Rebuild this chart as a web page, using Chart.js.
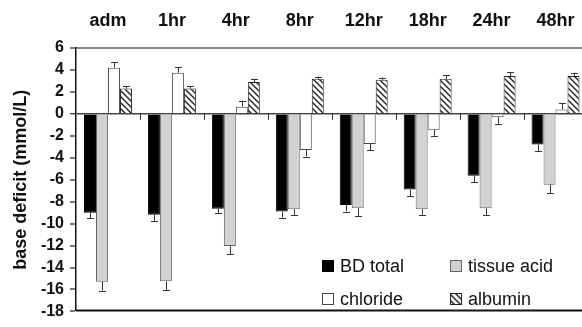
<!DOCTYPE html>
<html>
<head>
<meta charset="utf-8">
<script src="https://cdn.jsdelivr.net/npm/chart.js@4"></script>
<style>
html,body{margin:0;padding:0;background:#fff;overflow:hidden;}
canvas{display:block;}
</style>
</head>
<body>
<canvas id="plot" width="600" height="327"></canvas>
<script>
// values (mmol/L), error = one-sided SE bar
const categories = ['adm','1hr','4hr','8hr','12hr','18hr','24hr','48hr'];
const bdTotal        = [-9.0, -9.2, -8.65, -8.9, -8.3, -6.9, -5.65, -2.8];
const bdTotalErr     = [0.5, 0.55, 0.4, 0.55, 0.6, 0.6, 0.55, 0.6];
const tissueAcid     = [-15.3, -15.25, -12.05, -8.7, -8.6, -8.7, -8.6, -6.45];
const tissueAcidErr  = [0.8, 0.8, 0.75, 0.5, 0.75, 0.5, 0.6, 0.8];
const chloride       = [4.2, 3.75, 0.65, -3.3, -2.75, -1.45, -0.3, 0.4];
const chlorideErr    = [0.5, 0.5, 0.55, 0.6, 0.55, 0.55, 0.6, 0.6];
const albumin        = [2.3, 2.3, 2.9, 3.2, 3.1, 3.2, 3.45, 3.45];
const albuminErr     = [0.25, 0.25, 0.3, 0.2, 0.2, 0.3, 0.35, 0.3];
const seriesNames    = ['BD total','tissue acid','chloride','albumin'];
const yMin = -18, yMax = 6, yStep = 2;

Chart.defaults.font.family = "'Liberation Sans', Arial, sans-serif";

let ctx = document.getElementById("plot").getContext("2d");

function hatchPattern(){
    const c = document.createElement('canvas');
    c.width = 6; c.height = 6;
    const g = c.getContext('2d');
    g.fillStyle = '#fff';
    g.fillRect(0,0,6,6);
    g.strokeStyle = '#222';
    g.lineWidth = 1.4;
    g.beginPath();
    g.moveTo(0,0); g.lineTo(6,6);
    g.moveTo(-3,3); g.lineTo(3,9);
    g.moveTo(3,-3); g.lineTo(9,3);
    g.stroke();
    return ctx.createPattern(c,'repeat');
}

const errors = [bdTotalErr, tissueAcidErr, chlorideErr, albuminErr];

const errorBars = {
    id: 'errorBars',
    afterDatasetsDraw(chart){
        const c = chart.ctx, y = chart.scales.y;
        c.save();
        c.strokeStyle = '#333';
        c.lineWidth = 1;
        chart.data.datasets.forEach((ds,i)=>{
            chart.getDatasetMeta(i).data.forEach((bar,j)=>{
                const v = ds.data[j];
                const e = errors[i][j];
                const end = y.getPixelForValue(v + (v<0 ? -e : e));
                const x = Math.round(bar.x)+0.5;
                c.beginPath();
                c.moveTo(x, bar.y);
                c.lineTo(x, end);
                c.moveTo(x-3.5, Math.round(end)+0.5);
                c.lineTo(x+3.5, Math.round(end)+0.5);
                c.stroke();
            });
        });
        c.restore();
    }
};

const frame = {
    id: 'frame',
    afterDraw(chart){
        const c = chart.ctx, a = chart.chartArea, x = chart.scales.x, y = chart.scales.y;
        c.save();
        // bottom border
        c.strokeStyle = '#111';
        c.lineWidth = 2;
        c.beginPath();
        c.moveTo(a.left, a.bottom-1);
        c.lineTo(a.right, a.bottom-1);
        c.stroke();
        // category ticks on the zero line
        const z = y.getPixelForValue(0);
        c.strokeStyle = '#333';
        c.lineWidth = 1;
        c.beginPath();
        for(let i=0;i<categories.length-1;i++){
            const m = Math.round((x.getPixelForValue(i)+x.getPixelForValue(i+1))/2)+0.5;
            c.moveTo(m, z);
            c.lineTo(m, z+6);
        }
        c.stroke();
        // legend, 2 x 2, inside plot
        const pos = [[322,266],[450,266],[322,299],[450,299]];
        c.font = "18px 'Liberation Sans', Arial, sans-serif";
        c.textBaseline = 'middle';
        c.fillStyle = '#111';
        chart.data.datasets.forEach((ds,i)=>{
            const [lx,ly] = pos[i];
            c.fillStyle = ds.backgroundColor;
            c.fillRect(lx, ly-6, 12, 12);
            c.strokeStyle = ds.borderColor;
            c.lineWidth = 1;
            c.strokeRect(lx+0.5, ly-5.5, 11, 11);
            c.fillStyle = '#111';
            c.fillText(ds.label, lx+18, ly+1);
        });
        c.restore();
    }
};

const data = {
    labels: categories,
    datasets: [
        {label: seriesNames[0], data: bdTotal, backgroundColor: '#000', borderColor: '#000', borderWidth: 1},
        {label: seriesNames[1], data: tissueAcid, backgroundColor: '#d2d2d2', borderColor: '#666', borderWidth: 1},
        {label: seriesNames[2], data: chloride, backgroundColor: '#fff', borderColor: '#444', borderWidth: 1},
        {label: seriesNames[3], data: albumin, backgroundColor: hatchPattern(), borderColor: '#222', borderWidth: 1}
    ]
};

const config = {
    type: 'bar',
    data: data,
    options: {
        responsive: false,
        animation: false,
        categoryPercentage: 0.75,
        barPercentage: 1,
        layout: {padding: {left: 0, right: 12.5, top: 0, bottom: 5}},
        plugins: {legend: {display: false}, tooltip: {enabled: false}},
        scales: {
            x: {
                position: 'top',
                grid: {display: false},
                border: {display: true, color: '#888', width: 2},
                ticks: {font: {size: 18, weight: 'bold'}, color: '#111', padding: 8},
                afterFit(s){ s.height = 48; }
            },
            y: {
                min: yMin,
                max: yMax,
                ticks: {stepSize: yStep, autoSkip: false, font: {size: 16, weight: 'bold'}, color: '#111', padding: 6},
                grid: {
                    color: c => c.tick && c.tick.value === 0 ? '#444' : 'rgba(0,0,0,0)',
                    lineWidth: c => c.tick && c.tick.value === 0 ? 1.5 : 0,
                    tickColor: '#222',
                    tickWidth: 1.2,
                    tickLength: 6
                },
                border: {color: '#111', width: 1.5},
                title: {display: true, text: 'base deficit (mmol/L)', font: {size: 18, weight: 'bold'}, color: '#111', padding: {top: 10, bottom: 0}},
                afterFit(s){ s.width = 76; }
            }
        }
    },
    plugins: [errorBars, frame]
};

let chart = new Chart(ctx, config);
</script>
</body>
</html>
